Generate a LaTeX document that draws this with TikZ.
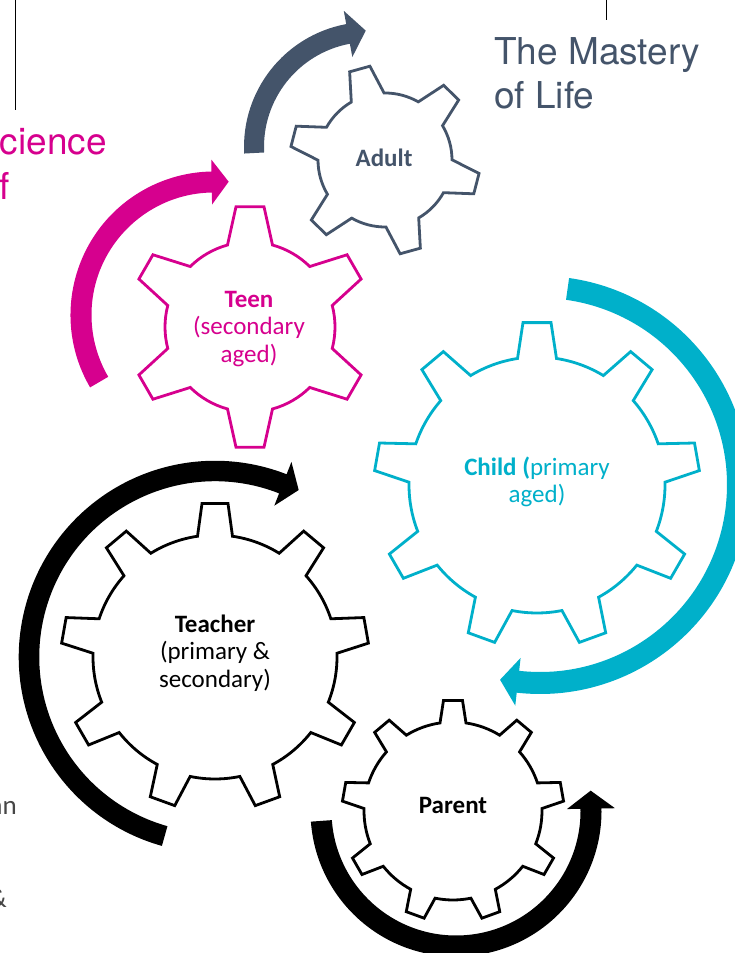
\documentclass[tikz,border=0pt]{standalone}
\usepackage{fontspec}
\setmainfont{Carlito}
\newfontfamily\headfont{TeX Gyre Heros}
\usetikzlibrary{calc}
\definecolor{slate}{RGB}{68,84,106}
\definecolor{magentaA}{RGB}{214,0,142}
\definecolor{tealA}{RGB}{0,176,202}
\definecolor{greyA}{RGB}{70,70,70}

% gear: #1 style, #2 centre, #3 teeth, #4 first tooth angle, #5 body radius, #6 tip radius, #7 base half-angle, #8 tip half-angle
\newcommand{\gearpath}[8]{%
  \pgfmathsetmacro{\gstart}{#4-#7}%
  \draw[#1] ([shift={(#2)}]\gstart:#5)
  \foreach \k [evaluate=\k as \ga using {#4+(\k-1)*360/#3-#8},
               evaluate=\k as \gb using {#4+(\k-1)*360/#3+#8},
               evaluate=\k as \gc using {#4+(\k-1)*360/#3+#7},
               evaluate=\k as \gd using {#4+\k*360/#3-#7}] in {1,...,#3}{
    -- ([shift={(#2)}]\ga:#6)
    -- ([shift={(#2)}]\gb:#6)
    -- ([shift={(#2)}]\gc:#5)
    arc[start angle=\gc, end angle=\gd, radius=#5]
  } -- cycle;}

% curved block arrow: #1 colour, #2 centre, #3 radius, #4 start, #5 end, #6 half width, #7 head half width, #8 head length, #9 tangent offset (+90 ccw, -90 cw)
\newcommand{\bentarrow}[9]{%
  \fill[#1] ([shift={(#2)}]#4:{#3+#6}) arc[start angle=#4, end angle=#5, radius={#3+#6}]
    -- ([shift={(#2)}]#5:{#3+#7})
    -- ($(#2)+(#5:#3)+({#5+(#9)}:#8)$)
    -- ([shift={(#2)}]#5:{#3-#7})
    -- ([shift={(#2)}]#5:{#3-#6})
    arc[start angle=#5, end angle=#4, radius={#3-#6}] -- cycle;}

\begin{document}
\begin{tikzpicture}[x=1pt,y=1pt,
  gearline/.style={line width=2.8pt, fill=white, line join=miter},
  lbl/.style={inner sep=0pt, align=center, font=\fontsize{25}{27.5}\selectfont},
  headtext/.style={inner sep=0pt, font=\headfont\fontsize{37}{44}\selectfont},
  sidetext/.style={inner sep=0pt, text=greyA, font=\fontsize{27}{30}\selectfont}]
\useasboundingbox (0,0) rectangle (735,953);
\clip (0,0) rectangle (735,953);

% centres
\coordinate (teenc) at (250,626);
\coordinate (adultc) at (385,793);
\coordinate (childc) at (537,468);
\coordinate (teacherc) at (215,296);
\coordinate (parentc) at (453,142);
\coordinate (adultarc) at (369,806);
\coordinate (teenarc) at (214,638);
\coordinate (childarc) at (540,468);
\coordinate (parentarc) at (456,142);

% page fragments
\coordinate (lineAtop) at (15,953);
\coordinate (lineAbot) at (15,843);
\coordinate (lineBtop) at (606,953);
\coordinate (lineBbot) at (606,933);
\draw[line width=1pt] (lineAtop) -- (lineAbot);
\draw[line width=1pt] (lineBtop) -- (lineBbot);
\node[headtext, text=slate, anchor=base west] (mast1) at (494,888.7) {The Mastery};
\node[headtext, text=slate, anchor=base west] (mast2) at (494,844.7) {of Life};
\node[headtext, text=magentaA, anchor=base west] (sci1) at (-25,798) {Science};
\node[headtext, text=magentaA, anchor=base west] (sci2) at (-21,753.7) {of};
\node[sidetext, anchor=base east] (side1) at (17,138) {an};
\node[sidetext, anchor=base east] (side2) at (7,45) {\&};

% arrows
\bentarrow{slate}{adultarc}{115}{183}{100.5}{10}{23.5}{18}{-90}
\bentarrow{magentaA}{teenarc}{133}{210.3}{91}{10.5}{22.5}{17}{-90}
\bentarrow{tealA}{childarc}{198}{82}{-96.4}{11}{24}{18}{-90}
\bentarrow{black}{teacherc}{186}{254.3}{68.6}{10.25}{23.5}{17}{-90}
\bentarrow{black}{parentarc}{135}{184.2}{361}{10.5}{24}{18}{90}

% gears
\gearpath{gearline, draw=magentaA}{teenc}{6}{90}{85}{121}{15.35}{6.65}
\gearpath{gearline, draw=slate}{adultc}{6}{105.5}{67}{95}{14.7}{6.35}
\gearpath{gearline, draw=tealA}{childc}{9}{90}{128}{163}{8.76}{4.93}
\gearpath{gearline, draw=black}{teacherc}{9}{90}{122}{154}{8.25}{4.84}
\gearpath{gearline, draw=black}{parentc}{9}{90}{89}{111}{8.4}{4.91}

% labels
\node[lbl, text=magentaA] (teenlbl) at (249,624) {\textbf{Teen}\\(secondary\\aged)};
\node[lbl, text=slate, anchor=base] (adultlbl) at (384,786) {\textbf{Adult}};
\node[lbl, text=tealA] (childlbl) at (537,471) {\textbf{Child (}primary\\aged)};
\node[lbl, text=black] (teacherlbl) at (215,300) {\textbf{Teacher}\\(primary \&\\secondary)};
\node[lbl, text=black, anchor=base] (parentlbl) at (453,139) {\textbf{Parent}};
\end{tikzpicture}
\end{document}
